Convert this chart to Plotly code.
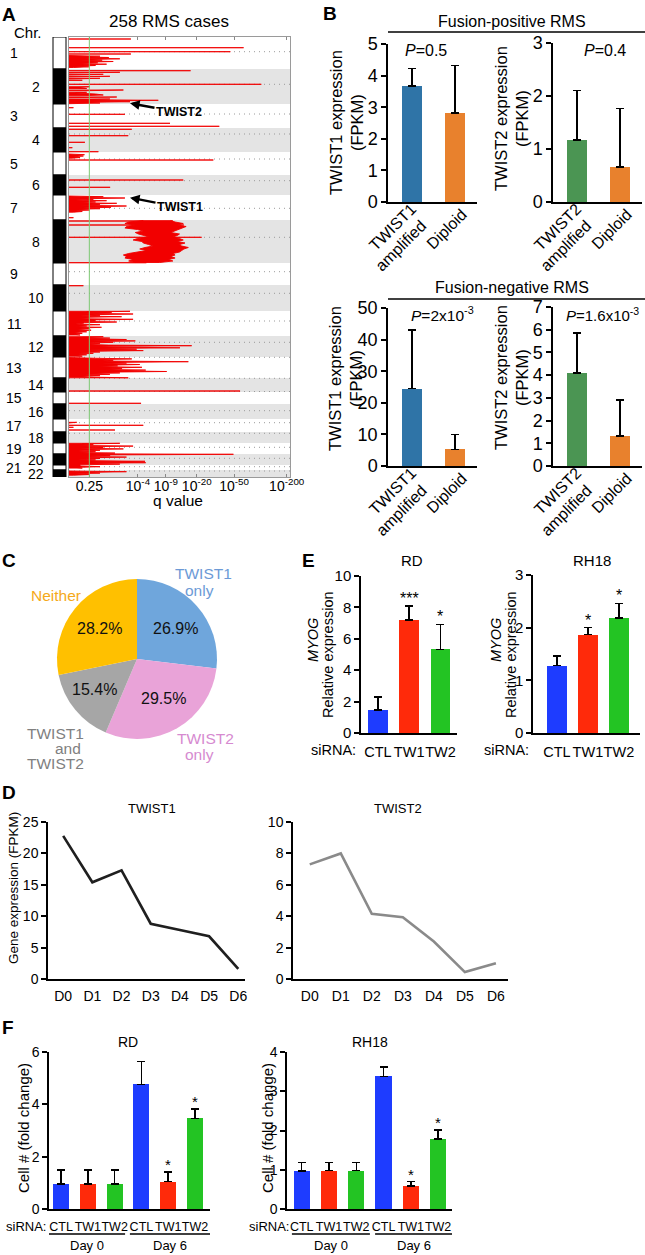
import plotly.graph_objects as go

W, H = 645, 1255
FONT = "Liberation Sans, Arial, sans-serif"

# ---------------- Panel A: GISTIC amplification profile ----------------
chrom_names = [str(i) for i in range(1, 23)]
chrom_edges = [0, 32, 67, 91, 115, 138, 158, 183, 226, 248, 274, 299, 320, 341,
               355, 367, 382, 395, 406, 417, 428, 433, 440]
cen_pos = [14.7, 47.3, 77, 97, 122, 143.7, 171.3, 200.3, 234.7, 256.3, 284, 305.3,
           320.3, 341.3, 354.5, 373.7, 385.7, 396.3, 410.3, 421.3, 429.7, 434]
q_tick_pos = [9.2, 31.2, 43.8, 57.8, 74.7, 98.5]
q_tick_text = ["0.25", "10<sup>-4</sup>", "10<sup>-9</sup>", "10<sup>-20</sup>",
               "10<sup>-50</sup>", "10<sup>-200</sup>"]
q_cutoff = 9.2

peak_pos = [
    2, 10.7, 14.7, 17, 18.5, 19.2, 19.8, 20.5, 21.2, 21.8, 22.5, 23.2, 23.8, 24.5, 25.2,
    25.8, 26.5, 27.2, 27.8, 28.5, 29.2, 29.8, 30.5,
    33.7, 35.3, 36, 37.3, 38, 39.3, 40, 41.3, 42, 43.3, 47.3, 49.7, 50.5, 51.5, 53, 53.8,
    55.3, 56, 57, 58, 58.8, 60, 60.7, 62, 62.7, 63.3, 64, 64.7, 65.3, 66, 66.7,
    70.7, 77.3, 86.3, 89.3,
    92.3, 98.7, 105.3, 110.7,
    114.7, 117, 117.7, 118.4, 119, 119.8, 120.5, 121.2, 123,
    143, 150.3,
    159, 159.7, 160.4, 161, 161.7, 162.3, 163, 163.7, 164.3, 165, 165.7, 166.3, 167, 167.7,
    168.3, 169, 169.7, 170.3, 171, 171.7, 172.3, 173, 173.7, 174.5, 175.2, 180.7,
    184, 188, 200.3, 225.7,
    248.7,
    274.3, 275, 275.7, 276.3, 277, 277.7, 278.3, 279, 279.7, 280.3, 281, 281.7, 282.3, 283,
    283.7, 284.3, 285, 285.7, 286.3, 287, 287.7, 288.3, 289, 289.7, 290.3, 291, 291.7,
    292.5, 293.2, 294, 294.8, 295.5, 296.3, 297.2, 298,
    299.7, 300.4, 301.1, 301.8, 302.5, 303.2, 303.9, 304.6, 305.3, 306, 306.7, 307.4, 308.1,
    308.7, 309.4, 310.1, 310.8, 311.5, 312.2, 312.9, 313.6, 314.3, 315, 315.7, 316.4, 317.1,
    317.8, 318.5, 319.2,
    320.5, 321.2, 321.9, 322.6, 323.3, 324, 324.7, 325.4, 326.1, 326.8, 327.5, 328.2, 328.9,
    329.6, 330.3, 331, 331.7, 332.4, 333.1, 333.8, 334.5, 335.2, 335.9, 336.6, 337.3, 338,
    338.7, 339.4, 340.1, 340.8,
    354, 366.3,
    385.3, 386, 388.3, 390.3, 393,
    406.3, 407, 407.7, 408.4, 409.1, 409.8, 410.5, 411.2, 411.9, 412.6, 413.3, 414, 414.7,
    415.4, 416.1, 416.8,
    417.3, 418, 418.7, 419.4, 420.1, 420.8, 421.5, 422.2, 422.9, 423.6, 424.3, 425, 425.7,
    426.4, 427.1, 427.8,
    429, 429.7, 430.4, 431.1,
    434, 434.7, 435.4, 436.1, 436.8, 437.5, 438.2,
]
peak_score = [
    28, 79, 73, 28, 6, 14, 4, 18, 7, 23, 9, 15, 5, 20, 8,
    13, 4, 17, 6, 12, 3, 9, 2,
    55, 23, 6, 15.5, 5, 18.5, 6, 14, 3, 6, 87, 9.5, 4, 8, 24.6, 5,
    8, 3, 12, 15.5, 5, 21.6, 8, 18.5, 6, 40.4, 10, 27.6, 8, 14, 4,
    2, 25.3, 45.7, 68,
    28.4, 26.8, 7.2, 1.5,
    13.3, 4, 7, 3, 6.5, 2, 5, 1.5, 65.3,
    51.7, 18.6,
    4, 15.5, 6, 25.3, 8, 11, 3, 17, 7, 12, 4, 21.6, 9, 14,
    5, 26, 10, 19, 6, 14, 4, 9.5, 3, 6, 2, 2,
    47, 52, 60, 35,
    6.5,
    27.6, 8, 19.3, 6, 29, 10, 14, 5, 23.8, 7, 9.5, 4, 29, 9,
    12, 5, 21.6, 7, 6.5, 3, 14, 5, 8, 3, 14.7, 5, 9.5,
    3, 10, 4, 8, 2, 6, 2, 5,
    15.5, 6, 18.5, 7, 26, 10, 30, 12, 20, 9, 14, 8, 18,
    55.5, 13, 18, 50.2, 11, 30.6, 8, 33.6, 10, 14, 5, 11, 4,
    8, 3, 6,
    5, 12, 28.4, 14, 20, 15, 54, 20, 26, 15, 32, 17, 22,
    12, 33, 18, 24, 16, 34.7, 20, 44.2, 14, 23, 10, 18.5, 7,
    14, 5, 9, 26.8,
    77.4, 32.6,
    3.5, 1.5, 33.6, 2, 20.8,
    23, 6, 11, 4, 29, 7, 15.5, 5, 24.6, 8, 14, 4, 12,
    4, 20.8, 6,
    74.4, 9, 18.6, 5, 26, 8, 14, 4, 12, 5, 34.4, 9, 34.7,
    6, 23, 5,
    5, 14, 3, 6,
    3, 26, 8, 14, 3, 9, 2,
]

chr8_pos = [183.5, 185, 186.5, 188, 189.5, 191, 192.5, 194, 195.5, 197, 198.5, 200, 201.5,
            203, 204.5, 206, 207.5, 209, 210.5, 212, 213.5, 215, 216.5, 218, 219.5, 221,
            222.5, 224, 225.5]
chr8_low = [33.6, 27, 25.3, 30, 26, 25.3, 31, 33.6, 30, 31.4, 34, 36, 31, 29, 33, 33.6, 36,
            38, 34.4, 32, 35, 30.6, 27, 24.6, 26, 25.3, 29, 27, 30]
chr8_high = [46, 48, 51.7, 49, 53, 52, 50, 48, 46, 50, 49, 47, 50, 51.7, 49, 52.5, 50, 51,
             54, 52, 51, 50, 47, 48, 46, 48, 45, 47, 41]

# ---------------- Panel B: expression by copy number ----------------
b_cats_t1 = ["TWIST1<br>amplified", "Diploid"]
b_cats_t2 = ["TWIST2<br>amplified", "Diploid"]
fpos_twist1 = [3.67, 2.82]
fpos_twist1_top = [4.22, 4.32]
fpos_twist2 = [1.17, 0.66]
fpos_twist2_top = [2.10, 1.76]
fneg_twist1 = [24.5, 5.3]
fneg_twist1_top = [43.0, 10.0]
fneg_twist2 = [4.1, 1.32]
fneg_twist2_top = [5.86, 2.91]

# ---------------- Panel C: pie ----------------
pie_labels = ["TWIST1 only", "TWIST2 only", "TWIST1 and TWIST2", "Neither"]
pie_values = [26.9, 29.5, 15.4, 28.2]
pie_colors = ["#6fa6dc", "#e9a3d8", "#a6a6a6", "#ffc000"]

# ---------------- Panel D: time course ----------------
days = ["D0", "D1", "D2", "D3", "D4", "D5", "D6"]
twist1_fpkm = [22.8, 15.4, 17.3, 8.8, 7.8, 6.8, 1.6]
twist2_fpkm = [7.3, 8.0, 4.15, 3.93, 2.39, 0.44, 1.01]

# ---------------- Panel E: MYOG after knockdown ----------------
sirna = ["CTL", "TW1", "TW2"]
rd_myog = [1.48, 7.2, 5.32]
rd_myog_top = [2.3, 8.08, 6.92]
rd_myog_sig = ["", "***", "*"]
rh18_myog = [1.28, 1.87, 2.18]
rh18_myog_top = [1.46, 2.0, 2.46]
rh18_myog_sig = ["", "*", "*"]

# ---------------- Panel F: cell number ----------------
sirna_days = ["CTL", "TW1", "TW2", "CTL", "TW1", "TW2"]
rd_cells = [0.95, 0.95, 0.95, 4.76, 1.05, 3.46]
rd_cells_top = [1.5, 1.5, 1.5, 5.63, 1.41, 3.82]
rh18_cells = [0.97, 0.98, 0.98, 3.38, 0.58, 1.78]
rh18_cells_top = [1.19, 1.19, 1.19, 3.62, 0.70, 2.01]
cells_sig = ["", "", "", "", "*", "*"]

BLUE_B, ORANGE_B, GREEN_B = "#2f74a7", "#e8812d", "#4b9553"
BLUE, RED, GREEN = "#1e3cff", "#ff2a0a", "#23c423"


def px(x):
    return x / W


def py(y):
    return 1 - y / H


fig = go.Figure()
annotations = []
shapes = []


def note(text, x, y, size, color="black", **kw):
    d = dict(text=text, x=px(x), y=py(y), xref="paper", yref="paper", showarrow=False,
             xanchor="center", yanchor="middle",
             font=dict(size=size, color=color, family=FONT))
    d.update(kw)
    annotations.append(d)


# ---- A ----
xs, ys = [], []
prev = None
for g, s in zip(peak_pos, peak_score):
    if prev is None or g - prev > 1.2:
        if prev is not None:
            xs += [0, None]
            ys += [prev, None]
        xs.append(0)
        ys.append(g)
    xs.append(s)
    ys.append(g)
    prev = g
xs.append(0)
ys.append(prev)
fig.add_trace(go.Scatter(x=xs, y=ys, mode="lines", fill="toself", fillcolor="#f20000",
                         line=dict(color="#f20000", width=0.9), hoverinfo="skip",
                         showlegend=False, xaxis="x", yaxis="y"))
fig.add_trace(go.Scatter(x=chr8_low + chr8_high[::-1], y=chr8_pos + chr8_pos[::-1],
                         mode="lines", fill="toself", fillcolor="#f20000",
                         line=dict(color="#f20000", width=0.9), hoverinfo="skip",
                         showlegend=False, xaxis="x", yaxis="y"))

for i in range(len(chrom_names)):
    y0, y1 = chrom_edges[i], chrom_edges[i + 1]
    if i % 2 == 1:
        shapes.append(dict(type="rect", xref="x", yref="y", x0=0, x1=100, y0=y0, y1=y1,
                           fillcolor="#e4e4e4", line=dict(width=0), layer="below"))
    shapes.append(dict(type="rect", xref="paper", yref="y", x0=px(53), x1=px(66), y0=y0, y1=y1,
                       fillcolor="black" if i % 2 == 1 else "white",
                       line=dict(color="black", width=1)))
    annotations.append(dict(text=chrom_names[i], xref="paper", yref="y",
                            x=px(14 if i % 2 == 0 else 36), y=(y0 + y1) / 2,
                            xanchor="center", yanchor="middle",
                            showarrow=False, font=dict(size=14, family=FONT, color="black")))
for c in cen_pos:
    shapes.append(dict(type="line", xref="x", yref="y", x0=0, x1=100, y0=c, y1=c,
                       line=dict(color="#9a9a9a", width=1, dash="1px,4px"), layer="below"))
shapes.append(dict(type="line", xref="x", yref="y", x0=q_cutoff, x1=q_cutoff, y0=0, y1=440,
                   line=dict(color="#7cc873", width=1)))

annotations.append(dict(text="<b>TWIST2</b>", x=27.6, y=66.3, xref="x", yref="y",
                        showarrow=True, arrowhead=2, arrowsize=0.8, arrowwidth=2.4,
                        arrowcolor="black", ax=49, ay=9,
                        font=dict(size=12.5, family=FONT, color="black")))
annotations.append(dict(text="<b>TWIST1</b>", x=27.6, y=160.7, xref="x", yref="y",
                        showarrow=True, arrowhead=2, arrowsize=0.8, arrowwidth=2.4,
                        arrowcolor="black", ax=50, ay=9.6,
                        font=dict(size=12.5, family=FONT, color="black")))

note("<b>A</b>", 9, 15, 19)
note("258 RMS cases", 169, 21, 17)
note("Chr.", 28, 32, 15)
note("q value", 178, 500, 15.5)


# ---- B ----
def add_bars(n, vals, tops, colors, width, sig=None, star_size=15):
    ax = "" if n == 1 else str(n)
    xs_ = list(range(len(vals)))
    fig.add_trace(go.Bar(
        x=xs_, y=vals, width=width, marker=dict(color=colors, line=dict(width=0)),
        error_y=dict(type="data", symmetric=False,
                     array=[t - v for t, v in zip(tops, vals)], arrayminus=[0] * len(vals),
                     color="black", thickness=1.5, width=4),
        xaxis="x" + ax, yaxis="y" + ax, showlegend=False, hoverinfo="skip"))
    if sig:
        for i, s in enumerate(sig):
            if s:
                annotations.append(dict(text=s, x=i, y=tops[i], xref="x" + ax, yref="y" + ax,
                                        xanchor="center", yanchor="bottom", showarrow=False,
                                        yshift=-3,
                                        font=dict(size=star_size, family=FONT, color="black")))


def slanted_labels(n, cats, axis_y):
    # category names written at -45 degrees under the bars
    for i, lab in enumerate(cats):
        parts = lab.split("<br>")
        offs = [(-20, 25), (-11, 44)] if len(parts) == 2 else [(-9, 27)]
        for part, (dx, dy) in zip(parts, offs):
            annotations.append(dict(text=part, x=i, xref="x" + str(n), y=py(axis_y + dy),
                                    yref="paper", xshift=dx, textangle=-45, xanchor="center",
                                    yanchor="middle", showarrow=False,
                                    font=dict(size=16, family=FONT, color="black")))


add_bars(2, fpos_twist1, fpos_twist1_top, [BLUE_B, ORANGE_B], 0.47)
add_bars(3, fpos_twist2, fpos_twist2_top, [GREEN_B, ORANGE_B], 0.47)
add_bars(4, fneg_twist1, fneg_twist1_top, [BLUE_B, ORANGE_B], 0.47)
add_bars(5, fneg_twist2, fneg_twist2_top, [GREEN_B, ORANGE_B], 0.47)
slanted_labels(2, b_cats_t1, 202)
slanted_labels(3, b_cats_t2, 202)
slanted_labels(4, b_cats_t1, 466)
slanted_labels(5, b_cats_t2, 466)

note("<b>B</b>", 330, 14, 19)
note("Fusion-positive RMS", 512, 21, 16)
note("Fusion-negative RMS", 512, 288, 16)
shapes.append(dict(type="line", xref="paper", yref="paper", x0=px(388), x1=px(645),
                   y0=py(32), y1=py(32), line=dict(color="black", width=1.3)))
shapes.append(dict(type="line", xref="paper", yref="paper", x0=px(388), x1=px(645),
                   y0=py(299), y1=py(299), line=dict(color="black", width=1.3)))
note("<i>P</i>=0.5", 426, 51, 16)
note("<i>P</i>=0.4", 605, 51, 16)
note("<i>P</i>=2x10<sup>-3</sup>", 442, 314, 15.5)
note("<i>P</i>=1.6x10<sup>-3</sup>", 602, 314, 15)
note("TWIST1 expression<br>(FPKM)", 347, 123, 16.5, textangle=-90)
note("TWIST2 expression<br>(FPKM)", 511, 119, 16.5, textangle=-90)
note("TWIST1 expression<br>(FPKM)", 345, 378, 16.5, textangle=-90)
note("TWIST2 expression<br>(FPKM)", 511, 378, 16.5, textangle=-90)

# ---- C ----
fig.add_trace(go.Pie(values=pie_values, labels=pie_labels, marker=dict(colors=pie_colors,
                     line=dict(width=0)), sort=False, direction="clockwise", rotation=0,
                     textinfo="none", hoverinfo="skip", showlegend=False,
                     domain=dict(x=[px(57), px(217)], y=[py(739), py(579)])))
note("<b>C</b>", 9, 560, 19)
pct_xy = [(175, 628), (163, 698), (94, 689), (99, 628)]
for v, (x, y) in zip(pie_values, pct_xy):
    note(f"{v}%", x, y, 16, "#111111")
note("Neither", 56, 595, 15.5, "#f5a91a")
note("TWIST1", 203, 573, 15.5, "#6c9ad6")
note("only", 199, 590, 15.5, "#6c9ad6")
note("TWIST2", 205, 738, 15.5, "#d68ad0")
note("only", 199, 754, 15.5, "#d68ad0")
note("TWIST1", 86, 733, 15.5, "#808080", xanchor="right")
note("and", 83, 748, 15.5, "#808080", xanchor="right")
note("TWIST2", 86, 763, 15.5, "#808080", xanchor="right")

# ---- E ----
add_bars(6, rd_myog, rd_myog_top, [BLUE, RED, GREEN], 0.62, rd_myog_sig, 16)
add_bars(7, rh18_myog, rh18_myog_top, [BLUE, RED, GREEN], 0.64, rh18_myog_sig, 16)
note("<b>E</b>", 308, 560, 19)
note("RD", 412, 560, 15)
note("RH18", 592, 560, 15)
note("<i>MYOG</i>", 313, 640, 14.5, textangle=-90)
note("Relative expression", 328, 655, 14.5, textangle=-90)
note("<i>MYOG</i>", 496, 640, 14.5, textangle=-90)
note("Relative expression", 511, 655, 14.5, textangle=-90)
note("siRNA:", 358, 750, 14.5, xanchor="right")
note("siRNA:", 531, 750, 14.5, xanchor="right")

# ---- D ----
fig.add_trace(go.Scatter(x=list(range(7)), y=twist1_fpkm, mode="lines",
                         line=dict(color="#1f1f1f", width=2.6), xaxis="x8", yaxis="y8",
                         showlegend=False, hoverinfo="skip"))
fig.add_trace(go.Scatter(x=list(range(7)), y=twist2_fpkm, mode="lines",
                         line=dict(color="#8a8a8a", width=2.6), xaxis="x9", yaxis="y9",
                         showlegend=False, hoverinfo="skip"))
note("<b>D</b>", 9, 792, 19)
note("TWIST1", 152, 808, 13)
note("TWIST2", 398, 808, 13)
note("Gene expression (FPKM)", 13, 888, 13.5, textangle=-90)

# ---- F ----
add_bars(10, rd_cells, rd_cells_top, [BLUE, RED, GREEN] * 2, 0.6, cells_sig, 15)
add_bars(11, rh18_cells, rh18_cells_top, [BLUE, RED, GREEN] * 2, 0.6, cells_sig, 15)
note("<b>F</b>", 8, 1027, 19)
note("RD", 128, 1042, 14)
note("RH18", 370, 1042, 14)
note("Cell # (fold change)", 23, 1128, 15, textangle=-90)
note("Cell # (fold change)", 267, 1128, 15, textangle=-90)
note("siRNA:", 48, 1226, 13, xanchor="right")
note("siRNA:", 291, 1226, 13, xanchor="right")
for xa, spans in (("x10", [(-0.45, 2.39), (2.57, 5.56)]), ("x11", [(-0.36, 2.5), (2.69, 5.51)])):
    for (a, b), lab in zip(spans, ["Day 0", "Day 6"]):
        shapes.append(dict(type="line", xref=xa, yref="paper", x0=a, x1=b, y0=py(1234),
                           y1=py(1234), line=dict(color="black", width=1.3)))
        annotations.append(dict(text=lab, x=(a + b) / 2, y=py(1245), xref=xa, yref="paper",
                                xanchor="center", yanchor="middle", showarrow=False,
                                font=dict(size=13, family=FONT, color="black")))

# ---- axes ----
layout_axes = {}


def axis_pair(n, xd, yd, xr, yr, dtick=None, tickvals=None, ticktext=None, xfont=14,
              yfont=14, xlabgap=4, showx=True):
    sx = "" if n == 1 else str(n)
    layout_axes["xaxis" + sx] = dict(
        domain=[px(xd[0]), px(xd[1])], range=xr, anchor="y" + sx, showgrid=False,
        zeroline=False, showline=True, linecolor="black", linewidth=1.5,
        ticks="outside", ticklen=xlabgap, tickcolor="rgba(0,0,0,0)", tickvals=tickvals,
        ticktext=ticktext, tickangle=0, fixedrange=True, automargin=False,
        showticklabels=showx, tickfont=dict(size=xfont, family=FONT, color="black"))
    layout_axes["yaxis" + sx] = dict(
        domain=[py(yd[1]), py(yd[0])], range=yr, anchor="x" + sx, showgrid=False,
        zeroline=False, showline=True, linecolor="black", linewidth=1.5, ticks="outside",
        ticklen=5, tickwidth=1.5, tickcolor="black", dtick=dtick, tick0=0, fixedrange=True,
        automargin=False, tickfont=dict(size=yfont, family=FONT, color="black"))


axis_pair(2, (388, 477), (44, 202), [-0.56, 1.51], [0, 5], 1, [0, 1], None, 16, 18, 3, False)
axis_pair(3, (553, 642), (43, 202), [-0.56, 1.51], [0, 3], 1, [0, 1], None, 16, 18, 3, False)
axis_pair(4, (388, 477), (308, 466), [-0.56, 1.51], [0, 50], 10, [0, 1], None, 16, 18, 3, False)
axis_pair(5, (553, 642), (307, 466), [-0.56, 1.51], [0, 7], 1, [0, 1], None, 16, 18, 3, False)
axis_pair(6, (361, 457), (576, 733), [-0.54, 2.53], [0, 10], 2, [0, 1, 2], sirna, 14.5, 15, 5)
axis_pair(7, (533, 640), (575, 733), [-0.77, 2.68], [0, 3], 1, [0, 1, 2], sirna, 14.5, 15, 5)
axis_pair(8, (48, 245), (822, 979), [-0.52, 6.23], [0, 25], 5, list(range(7)), days, 14, 14, 3)
axis_pair(9, (293, 508), (822, 979), [-0.54, 6.39], [0, 10], 2, list(range(7)), days, 14, 14, 3)
axis_pair(10, (49, 210), (1052, 1209), [-0.45, 5.56], [0, 6], 2, list(range(6)), sirna_days, 12.5, 14, 5)
axis_pair(11, (287, 452), (1052, 1209), [-0.54, 5.51], [0, 4], 1, list(range(6)), sirna_days, 12.5, 14, 5)

layout_axes["xaxis"] = dict(domain=[px(69), px(290)], range=[0, 100], anchor="y",
                            showgrid=False, zeroline=False, showline=True, mirror="ticks",
                            linecolor="#9a9a9a", linewidth=1, ticks="inside", ticklen=3,
                            tickcolor="#888888", tickvals=q_tick_pos, ticktext=q_tick_text,
                            tickangle=0, fixedrange=True, automargin=False,
                            ticklabelstandoff=-4,
                            tickfont=dict(size=14, family=FONT, color="black"))
layout_axes["yaxis"] = dict(domain=[py(477), py(37)], range=[440, 0], anchor="x",
                            showgrid=False, zeroline=False, showline=True, mirror=True,
                            linecolor="#9a9a9a", linewidth=1, showticklabels=False,
                            ticks="", fixedrange=True, automargin=False)

fig.update_layout(
    width=W, height=H, autosize=False,
    margin=dict(l=0, r=0, t=0, b=0, pad=0, autoexpand=False),
    paper_bgcolor="white", plot_bgcolor="white",
    font=dict(family=FONT, color="black"),
    annotations=annotations, shapes=shapes, showlegend=False, bargap=0,
    **layout_axes,
)

# the page body keeps its default 8px margin otherwise, which pushes the figure off the window
fig.write_html("out.html", config={"displayModeBar": False},
               post_script="document.body.style.margin='0';")
